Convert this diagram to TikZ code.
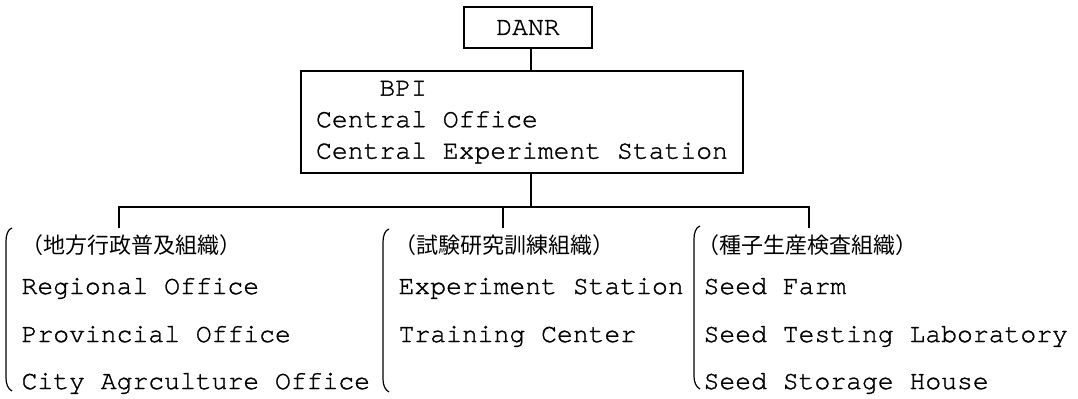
\documentclass[tikz,border=0pt]{standalone}
\usepackage{fontspec}
\usepackage{tikz}
\usetikzlibrary{positioning}
\newfontfamily\jpfont{Noto Sans CJK JP}
\newfontfamily\typewr{texgyrecursor-regular.otf}[FakeBold=1.2,Ligatures={NoCommon,NoRequired,NoContextual}]

\begin{document}
\begin{tikzpicture}[x=0.5pt,y=-0.5pt,line width=0.6pt,
 txt/.style={font=\typewr\fontsize{13.2}{15.75}\selectfont,inner sep=0pt},
 box/.style={draw,txt},
 item/.style={txt,anchor=base west},
 hdr/.style={font=\jpfont\fontsize{11}{13}\selectfont,inner sep=0pt,anchor=base west},
 grpbrace/.pic={\draw (6,0) .. controls (2,1) and (0,7) .. (0,13) -- (0,150) .. controls (0,156) and (2,161) .. (6,163);}]
 \useasboundingbox (0,0) rectangle (1078,398);
 \node[box,minimum width=64pt,minimum height=20.5pt] (danr) at (528,27.5) {DANR};
 \node[box,minimum width=221pt,minimum height=51pt,align=left] (bpi) at (522,122) {\phantom{Cent}BPI\\Central Office\\Central Experiment Station};
 \coordinate (hub) at (531,207);
 \coordinate (g1) at (119,228);
 \coordinate (g2) at (503,228);
 \coordinate (g3) at (809,228);
 \draw (danr.south -| hub) -- (bpi.north -| hub);
 \draw (bpi.south -| hub) -- (hub);
 \draw (g1) -- (g1 |- hub) -- (g3 |- hub) -- (g3);
 \draw (g2 |- hub) -- (g2);
 % brackets
 \pic at (6,228) {grpbrace};
 \pic at (383,229) {grpbrace};
 \pic at (694,226) {grpbrace};
 % local administration / extension
 \node[hdr] (hdr1) at (21,253) {（地方行政普及組織）};
 \node[below=20.5pt of hdr1.base west,item] (reg) {Regional Office};
 \node[below=24pt of reg.base west,item] (prov) {Provincial Office};
 \node[below=23.5pt of prov.base west,item] (city) {City Agrculture Office};
 % research / training
 \node[hdr] (hdr2) at (394,253) {（試験研究訓練組織）};
 \node[item] (exps) at (398,294) {Experiment Station};
 \node[below=24pt of exps.base west,item] (train) {Training Center};
 % seed production / inspection
 \node[hdr] (hdr3) at (697,253) {（種子生産検査組織）};
 \node[item] (farm) at (703,294) {Seed Farm};
 \node[below=24pt of farm.base west,item] (seedlab) {Seed Testing Laboratory};
 \node[below=23.5pt of seedlab.base west,item] (storage) {Seed Storage House};
\end{tikzpicture}
\end{document}
